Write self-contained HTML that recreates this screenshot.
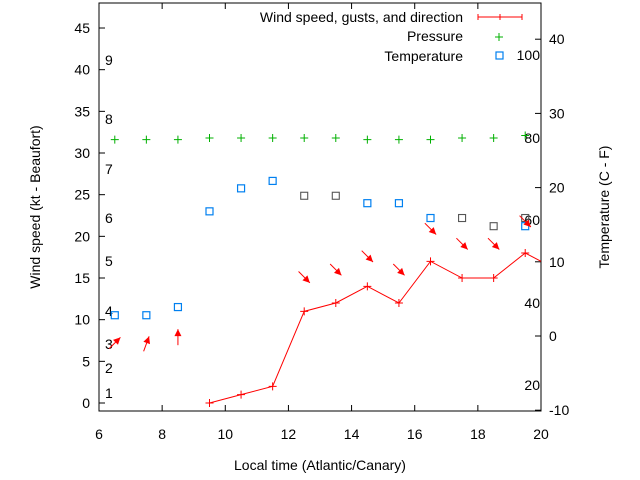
<!DOCTYPE html>
<html><head><meta charset="utf-8"><style>
body{margin:0;background:#fff}
svg{display:block;font-family:"Liberation Sans",sans-serif;font-size:14px}
</style></head><body>
<svg id="c" width="640" height="480" viewBox="0 0 640 480">
<g id="g"></g>
</svg>
<script>
const hours=[6.5,7.5,8.5,9.5,10.5,11.5,12.5,13.5,14.5,15.5,16.5,17.5,18.5,19.5];
const windHours=[9.5,10.5,11.5,12.5,13.5,14.5,15.5,16.5,17.5,18.5,19.5,20.5];
const windSpeed=[0,1,2,11,12,14,12,17,15,15,18,16];
const gustHours=[6.5,7.5,8.5,12.5,13.5,14.5,15.5,16.5,17.5,18.5,19.5];
const gustSpeed=[7.2,7.1,7.9,15.1,16.0,17.6,16.0,20.9,19.1,19.1,21.8];
const gustDir=[225,200,180,315,315,315,315,315,315,315,315];
const pressure=[31.6,31.6,31.6,31.8,31.8,31.8,31.8,31.8,31.6,31.6,31.6,31.8,31.8,32.1];
const tempHours=[6.5,7.5,8.5,9.5,10.5,11.5,14.5,15.5,16.5,19.5];
const tempC=[2.8,2.8,3.9,16.8,19.9,20.9,17.9,17.9,15.9,14.8];
const tempGrayHours=[12.5,13.5,17.5,18.5,19.5];
const tempGray=[18.9,18.9,15.9,14.8,15.9];
const xTicks=[6,8,10,12,14,16,18,20];
const yTicks=[0,5,10,15,20,25,30,35,40,45];
const y2Ticks=[-10,0,10,20,30,40];
const beaufort=[[1,393],[2,368],[3,344],[4,311],[5,261],[6,218],[7,169],[8,119],[9,60]];
const fLabels=[[100,55],[80,138],[60,220],[40,303],[20,385]];
const L=99,R=541,T=3,B=411;
const X=h=>L+(h-6)*(R-L)/14;
const Y=w=>403-w*8.333;
const Y2=t=>336-t*7.42;
const g=document.getElementById('g');
const NS='http://www.w3.org/2000/svg';
function el(tag,attrs,parent){const e=document.createElementNS(NS,tag);for(const k in attrs)e.setAttribute(k,attrs[k]);(parent||g).appendChild(e);return e;}
function txt(x,y,s,anchor,extra){const t=el('text',Object.assign({x:x,y:y,'text-anchor':anchor||'middle',fill:'#000'},extra||{}));t.textContent=s;return t;}
const defs=el('defs',{});const cp=el('clipPath',{id:'cp'},defs);el('rect',{x:L,y:T,width:R-L,height:B-T},cp);
const fr=el('rect',{x:L,y:T,width:R-L,height:B-T,fill:'none',stroke:'#000','stroke-width':1});


xTicks.forEach(h=>{
 el('line',{x1:X(h),x2:X(h),y1:B,y2:B-6,stroke:'#000'});
 el('line',{x1:X(h),x2:X(h),y1:T,y2:T+6,stroke:'#000'});
 const t=txt(X(h),439,String(h));
 
 
});
yTicks.forEach(v=>{
 el('line',{x1:L,x2:L+6,y1:Y(v),y2:Y(v),stroke:'#000'});
 const t=txt(L-9,Y(v)+5,String(v),'end');
 
 
});
y2Ticks.forEach(v=>{
 el('line',{x1:R,x2:R-6,y1:Y2(v),y2:Y2(v),stroke:'#000'});
 const t=txt(R+8,Y2(v)+5,String(v),'start');
 
 
});
beaufort.forEach(b=>{const t=txt(105,b[1]+5,String(b[0]),'start');
 
 });
fLabels.forEach(b=>{const t=txt(540,b[1]+5,String(b[0]),'end');
 
 });
let t=txt(320,470,'Local time (Atlantic/Canary)');


t=txt(0,0,'Wind speed (kt - Beaufort)','middle',{transform:'translate(40,207) rotate(-90)'});


t=txt(0,0,'Temperature (C - F)','middle',{transform:'translate(609,207) rotate(-90)'});


const pg=el('g',{'clip-path':'url(#cp)'});
hours.forEach((h,i)=>{const x=X(h),y=Y(pressure[i]);
 const p=el('path',{d:`M${x-4},${y}h8M${x},${y-4}v8`,stroke:'#00b000','stroke-width':1},pg);
 
 });
tempGrayHours.forEach((h,i)=>{const r=el('rect',{x:X(h)-3.5,y:Y2(tempGray[i])-3.5,width:7,height:7,fill:'none',stroke:'#555','stroke-width':1.1},pg);
 
 });
tempHours.forEach((h,i)=>{const r=el('rect',{x:X(h)-3.5,y:Y2(tempC[i])-3.5,width:7,height:7,fill:'none',stroke:'#0080f0','stroke-width':1.2},pg);
 
 });
const wl=el('polyline',{points:windHours.map((h,i)=>X(h)+','+Y(windSpeed[i])).join(' '),fill:'none',stroke:'#f00','stroke-width':1},pg);


windHours.forEach((h,i)=>{const x=X(h),y=Y(windSpeed[i]);
 const p=el('path',{d:`M${x-4},${y}h8M${x},${y-4}v8`,stroke:'#f00','stroke-width':1},pg);
 
 });
gustHours.forEach((h,i)=>{const x=X(h),y=Y(gustSpeed[i]);
 const a=(gustDir[i]+180)*Math.PI/180; const dx=Math.sin(a),dy=-Math.cos(a);
 const x1=x-dx*8,y1=y-dy*8,x2=x+dx*8,y2=y+dy*8;
 const ag=el('g',{},pg);
 
 
 el('line',{x1:x1,y1:y1,x2:x2,y2:y2,stroke:'#f00','stroke-width':1},ag);
 const px=-dy,py=dx;
 el('polygon',{points:`${x2},${y2} ${x2-dx*7+px*3.5},${y2-dy*7+py*3.5} ${x2-dx*7-px*3.5},${y2-dy*7-py*3.5}`,fill:'#f00'},ag);
});
const lg=el('g',{});


[['Wind speed, gusts, and direction',17],['Pressure',36],['Temperature',56]].forEach(r=>{const t=txt(463,r[1]+5,r[0],'end');lg.appendChild(t);});
el('path',{d:'M478,17h44M478,14v6M522,14v6M500,14v6',stroke:'#f00'},lg);
el('path',{d:'M495,37h8M499,33v8',stroke:'#00b000'},lg);
el('rect',{x:496,y:52,width:7,height:7,fill:'none',stroke:'#0080f0','stroke-width':1.2},lg);
</script>
</body></html>
